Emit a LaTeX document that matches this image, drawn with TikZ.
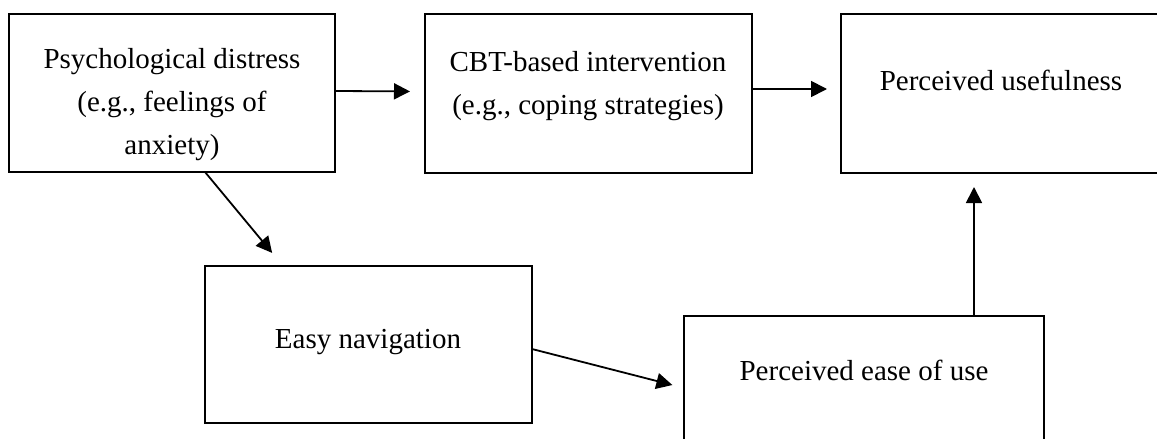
\documentclass[tikz,border=0pt]{standalone}
\usepackage{fontspec}
\setmainfont{Liberation Serif}
\usetikzlibrary{arrows.meta}
\begin{document}
\begin{tikzpicture}[x=1pt,y=1pt,
  box/.style={draw, line width=2pt, anchor=north west, inner sep=0pt, outer sep=0pt},
  lbl/.style={anchor=base, inner sep=0pt, font=\fontsize{29}{43}\selectfont},
  arr/.style={line width=1.8pt, -{Triangle[length=16pt,width=16pt]}}]
\useasboundingbox (0,0) rectangle (1157,-439);
\clip (0,0) rectangle (1157,-439);
% boxes
\node[box, minimum width=326pt, minimum height=158pt] (A) at (9,-14) {};
\node[box, minimum width=327pt, minimum height=159pt] (B) at (425,-14) {};
\node[box, minimum width=320pt, minimum height=159pt] (C) at (841,-14) {};
\node[box, minimum width=327pt, minimum height=157pt] (D) at (205,-266) {};
\node[box, minimum width=360pt, minimum height=140pt] (E) at (684,-316) {};
% labels
\node[lbl] (tA) at (172,-68) {\tabcolsep=0pt\begin{tabular}[t]{c}Psychological distress\\(e.g., feelings of\\anxiety)\end{tabular}};
\node[lbl] (tB) at (588,-71) {\tabcolsep=0pt\begin{tabular}[t]{c}CBT-based intervention\\(e.g., coping strategies)\end{tabular}};
\node[lbl] (tC) at (1001,-90) {Perceived usefulness};
\node[lbl] (tD) at (368,-348) {Easy navigation};
\node[lbl] (tE) at (864,-380) {Perceived ease of use};
% connectors
\draw[arr, shorten >=15pt] ([yshift=2pt]A.east) -- ([yshift=2pt]B.west);
\draw[arr, shorten >=14pt] ([yshift=4.5pt]B.east) -- ([yshift=4.5pt]C.west);
\draw[arr, shorten >=17pt] ([xshift=33pt]A.south) -- ([xshift=-85.5pt]D.north);
\draw[arr, shorten >=12pt] ([yshift=-4.5pt]D.east) -- ([yshift=-2pt]E.west);
\draw[arr, shorten >=14pt] ([xshift=110pt]E.north) -- ([xshift=-27pt]C.south);
\end{tikzpicture}
\end{document}
